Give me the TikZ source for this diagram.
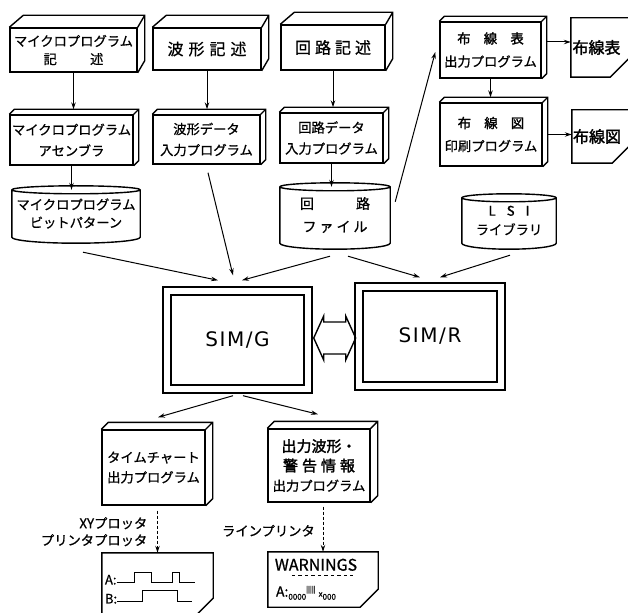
\documentclass[tikz,border=0pt]{standalone}
\usepackage{fontspec}
\setmainfont{Noto Sans CJK JP}[FakeBold=0.8]
\newfontfamily\heavyfont{Noto Sans CJK JP}[FakeBold=1.8]
\newfontfamily\simfont{DejaVu Sans}[LetterSpace=8]
\usetikzlibrary{calc, arrows.meta}

\begin{document}
\begin{tikzpicture}[x=1pt, y=-1pt,
    box/.style={draw, line width=1.4pt, align=center, inner sep=0pt, font=\fontsize{13.3}{21}\selectfont},
    bare/.style={align=center, inner sep=0pt, font=\fontsize{13.3}{21}\selectfont},
    edge/.style={line width=1.4pt},
    arr/.style={line width=1pt, -{Stealth[length=7pt, width=4.5pt]}}]

    % Define depth of the blocks
    \def\deepL{14}
    \def\deepR{7}
    \def\deepY{12}

    % Fix the picture size
    \useasboundingbox (0,0) rectangle (628,612);

    % Draw the description blocks
    \node[box, minimum width=127pt, minimum height=44pt, font=\fontsize{13.3}{18}\selectfont] (mdesc) at (73.5,50) {マイクロプログラム\\記\hspace{2.5em}述};
    \node[box, minimum width=108pt, minimum height=42pt, font=\fontsize{16}{20}\selectfont] (wdesc) at (207,49) {波\hspace{5pt}形\hspace{5pt}記\hspace{5pt}述};
    \node[box, minimum width=104pt, minimum height=45pt, font=\fontsize{16}{20}\selectfont] (cdesc) at (333,47.5) {回\hspace{4pt}路\hspace{4pt}記\hspace{4pt}述};

    \foreach \b in {mdesc, wdesc, cdesc}
        \draw[edge] (\b.north west) -- ++(\deepL,-\deepY) -- ($(\b.north east)+(\deepR,-\deepY)$)
            -- ($(\b.south east)+(\deepR,-\deepY)$) -- (\b.south east) (\b.north east) -- ++(\deepR,-\deepY);

    % Draw the program blocks
    \node[box, minimum width=123pt, minimum height=50pt] (masm) at (71.5,140) {マイクロプログラム\\アセンブラ};
    \node[box, minimum width=107pt, minimum height=49pt] (wdata) at (206.5,139.5) {波形データ\\入力プログラム};
    \node[box, minimum width=103pt, minimum height=50pt] (cdata) at (331.5,138) {回路データ\\入力プログラム};
    \node[box, minimum width=101pt, minimum height=56pt, font=\fontsize{13.3}{23}\selectfont] (wlist) at (490.5,50) {{\heavyfont 布\quad 線\quad 表}\\出力プログラム};
    \node[box, minimum width=102pt, minimum height=63pt, font=\fontsize{13.3}{23}\selectfont] (wmap) at (491,134.5) {{\heavyfont 布\quad 線\quad 図}\\印刷プログラム};
    \node[box, minimum width=103pt, minimum height=75pt, font=\fontsize{13.3}{20}\selectfont] (tchart) at (153.5,467.5) {タイムチャート\\出力プログラム};
    \node[box, minimum width=102pt, minimum height=73pt, font=\fontsize{13.3}{19.5}\selectfont] (wout) at (319,465.5)
        {{\heavyfont\fontsize{15}{19.5}\selectfont 出力波形・}\\{\heavyfont\fontsize{15}{19.5}\selectfont 警\hspace{4pt}告\hspace{4pt}情\hspace{4pt}報}\\出力プログラム};

    \foreach \b/\d in {masm/5, wdata/5, cdata/5, wlist/5, wmap/5, tchart/7, wout/7}
        \draw[edge] (\b.north west) -- ++(\d,-\d) -- ($(\b.north east)+(\d,-\d)$)
            -- ($(\b.south east)+(\d,-\d)$) -- (\b.south east) (\b.north east) -- ++(\d,-\d);

    % Draw the files
    \node[bare, minimum width=128pt, minimum height=47pt, font=\fontsize{13.3}{18}\selectfont] (bits) at (76,213.5) {マイクロプログラム\\ビットパターン};
    \node[bare, minimum width=110pt, minimum height=56pt, font=\fontsize{14}{23}\selectfont] (cfile) at (335,215) {回\hspace{3em}路\\フ\hspace{3pt}ァ\hspace{3pt}イ\hspace{3pt}ル};
    \node[bare, minimum width=94pt, minimum height=45pt, font=\fontsize{13.3}{19}\selectfont] (lsi) at (509,220.5) {L\hspace{11pt}S\hspace{11pt}I\\ライブラリ};

    \foreach \cyl in {bits, cfile, lsi}
        \draw[edge, line join=round] let \p1=(\cyl.north west), \p2=(\cyl.south east), \n1={(\x2-\x1)/2} in
            (\p1) -- (\x1,\y2) arc[start angle=180, end angle=360, x radius=\n1, y radius=6pt]
            -- (\x2,\y1) arc[start angle=0, end angle=180, x radius=\n1, y radius=4pt]
            arc[start angle=180, end angle=360, x radius=\n1, y radius=4pt];

    % Draw the output sheets
    \node[bare, minimum width=59pt, minimum height=59pt, font=\heavyfont\fontsize{16}{20}\selectfont] (wlistdoc) at (600.5,47.5) {\hspace{-8pt}布線表};
    \node[bare, minimum width=58pt, minimum height=53pt, font=\heavyfont\fontsize{16}{20}\selectfont] (wmapdoc) at (601,136.5) {\hspace{-8pt}布線図};
    \node[bare, minimum width=111pt, minimum height=61pt] (plotdoc) at (157.5,583.5) {};
    \node[bare, minimum width=110pt, minimum height=55pt] (warndoc) at (323,579.5) {};

    \foreach \d/\k in {wlistdoc/20, wmapdoc/18, plotdoc/16, warndoc/18}
        \draw[edge] (\d.south west) -- (\d.north west) -- (\d.north east)
            -- ($(\d.south east)+(0,-\k)$) -- ($(\d.south east)+(-\k,0)$) -- cycle;

    % Draw the time chart on the plot sheet
    \node[bare, anchor=west, font=\fontsize{13}{15}\selectfont] (siga) at ($(plotdoc.north west)+(3,27)$) {A:};
    \node[bare, anchor=west, font=\fontsize{13}{15}\selectfont] (sigb) at ($(plotdoc.north west)+(3,46)$) {B:};
    \draw[line width=1.2pt] ($(siga.east)+(0,3)$) -- ++(18,0) -- ++(0,-10) -- ++(17,0) -- ++(0,10) -- ++(21,0)
        -- ++(0,-10) -- ++(7,0) -- ++(0,10) -- ++(15,0);
    \draw[line width=1.2pt] ($(sigb.east)+(0,3)$) -- ++(25,0) -- ++(0,-11) -- ++(35,0) -- ++(0,11) -- ++(15,0);

    % Draw the warnings on the printer sheet
    \node[bare, font=\fontsize{16}{18}\selectfont] (warntitle) at ($(warndoc.north)+(-7,13)$) {WARNINGS};
    \draw[line width=1pt, dash pattern=on 3.5pt off 3pt] ($(warndoc.north west)+(24,24)$) -- ++(61,0);
    \node[bare, anchor=west, font=\fontsize{14}{16}\selectfont] (warnline) at ($(warndoc.north west)+(8,41)$)
        {A:\raisebox{-3pt}{\fontsize{8}{8}\selectfont 0000}\raisebox{5pt}{\fontsize{7}{7}\selectfont |||||}\hspace{3pt}{\fontsize{8}{8}\selectfont x}\raisebox{-3pt}{\fontsize{8}{8}\selectfont 000}};

    % Draw the simulators
    \node[box, double, double distance=6.6pt, minimum width=141pt, minimum height=98pt, font=\simfont\fontsize{20}{24}\selectfont] (simg) at (237.5,340) {SIM/G};
    \node[box, double, double distance=6.6pt, minimum width=142pt, minimum height=99pt, font=\simfont\fontsize{20}{24}\selectfont] (simr) at (430,336.5) {SIM/R};

    % Draw the link between the simulators
    \draw[edge] ($(simg.east)+(5,-2)$) coordinate (link) -- ++(10,-22) -- ++(0,6) -- ++(22,0) -- ++(0,-6) -- ++(10,22)
        -- ++(-10,22) -- ++(0,-6) -- ++(-22,0) -- ++(0,6) -- cycle;

    % Draw the arrows down the columns
    \draw[arr] (mdesc.south) -- ($(mdesc.south |- masm.north)+(0,-5)$);
    \draw[arr] (wdesc.south) -- ($(wdesc.south |- wdata.north)+(0,-5)$);
    \draw[arr] (cdesc.south) -- ($(cdesc.south |- cdata.north)+(0,-5)$);
    \draw[arr] (masm.south) -- (masm.south |- bits.north);
    \draw[arr] (cdata.south) -- (cdata.south |- cfile.north);
    \draw[arr] (wlist.south) -- ($(wlist.south |- wmap.north)+(0,-5)$);

    % Draw the arrows to the wiring sheets
    \draw[arr] ($(wlist.east)+(5,-8)$) -- ($(wlist.east -| wlistdoc.west)+(0,-8)$);
    \draw[arr] ($(wmap.east)+(5,0)$) -- (wmap.east -| wmapdoc.west);
    \draw[arr] ($(cfile.north east)+(5,15)$) -- ($(wlist.west)+(-4,2)$);

    % Draw the arrows into the simulators
    \draw[arr] ($(bits.south)+(7,15)$) -- ($(simg.north)+(-19.5,-10)$);
    \draw[arr] ($(wdata.south)+(1.5,8)$) -- ($(simg.north)+(-4.5,-15)$);
    \draw[arr] ($(cfile.south)+(-5,13)$) -- ($(simg.north)+(4.5,-10)$);
    \draw[arr] ($(cfile.south)+(13,13)$) -- ($(simr.north)+(-10,-9)$);
    \draw[arr] ($(lsi.south)+(1,12)$) -- ($(simr.north)+(10,-9)$);

    % Draw the arrows out of SIM/G
    \draw[arr] ($(simg.south)+(-4.5,6)$) -- ($(tchart.north)+(4.5,-12)$);
    \draw[arr] ($(simg.south)+(5.5,6)$) -- ($(wout.north)+(-1,-14)$);

    % Draw the dashed arrows to the devices
    \draw[arr, dash pattern=on 3pt off 2pt] ($(tchart.south -| plotdoc.north)+(0,5)$) -- (plotdoc.north);
    \draw[arr, dash pattern=on 3pt off 2pt] ($(wout.south -| warndoc.north)+(0,4)$) -- (warndoc.north);

    % Label the devices
    \node[bare, anchor=east, align=right, font=\fontsize{13.3}{17}\selectfont] (xylabel) at ($(tchart.south)+(-6,26)$) {XYプロッタ\\プリンタプロッタ};
    \node[bare, anchor=east, font=\fontsize{13.3}{17}\selectfont] (lplabel) at ($(wout.south)+(-4,28)$) {ラインプリンタ};

\end{tikzpicture}
\end{document}
